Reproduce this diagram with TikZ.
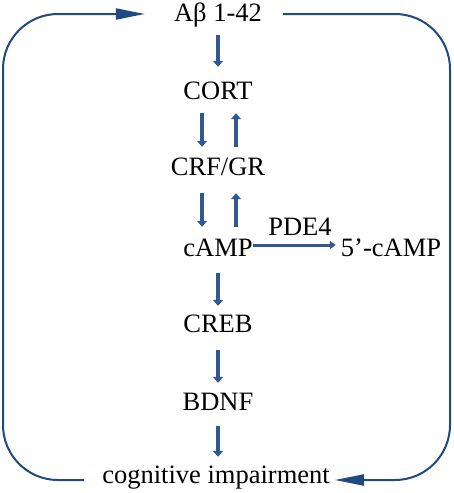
\documentclass[tikz,border=0pt]{standalone}
\usepackage{fontspec}
\setmainfont{Liberation Serif}
\usetikzlibrary{arrows.meta}
\definecolor{arrowblue}{RGB}{48,88,145}
\definecolor{loopblue}{RGB}{31,73,128}
\begin{document}
\begin{tikzpicture}[x=1pt,y=-1pt,
  lbl/.style={anchor=base, inner sep=0pt, text height=18pt, text depth=6pt, font=\fontsize{26.5}{30}\selectfont},
  blk/.style={draw=arrowblue, line width=4.5pt, -{Triangle[length=6pt,width=10pt]}},
  thinblk/.style={draw=arrowblue, line width=3pt, -{Triangle[length=6pt,width=8pt]}},
  loopline/.style={draw=loopblue, line width=2pt, rounded corners=55pt}]
\useasboundingbox (0,0) rectangle (454,493);
\node[lbl] (ab) at (218,21) {Aβ 1-42};
\node[lbl] (cort) at (218,99) {CORT};
\node[lbl] (crf) at (218,175) {CRF/GR};
\node[lbl] (camp) at (218,256) {cAMP};
\node[lbl] (five) at (391,256) {5’-cAMP};
\node[lbl] (pde) at (300,235) {PDE4};
\node[lbl] (creb) at (218,332) {CREB};
\node[lbl] (bdnf) at (218,410) {BDNF};
\node[lbl] (cog) at (216,483) {cognitive impairment};
\coordinate (L) at (3,0);
\coordinate (R) at (450,0);
% vertical chain
\draw[blk, shorten <=8pt, shorten >=14pt] (ab) -- (cort);
\draw[blk, shorten <=8pt, shorten >=10pt] ([xshift=-16pt]cort.south) -- ([xshift=-16pt]crf.north);
\draw[blk, shorten <=10pt, shorten >=8pt] ([xshift=18pt]crf.north) -- ([xshift=18pt]cort.south);
\draw[blk, shorten <=12pt, shorten >=11pt] ([xshift=-16pt]crf.south) -- ([xshift=-16pt]camp.north);
\draw[blk, shorten <=11pt, shorten >=12pt] ([xshift=18pt]camp.north) -- ([xshift=18pt]crf.south);
\draw[blk, shorten <=11pt, shorten >=8pt] (camp) -- (creb);
\draw[blk, shorten <=12pt, shorten >=9pt] (creb) -- (bdnf);
\draw[blk, shorten <=10pt, shorten >=8pt] (bdnf.south) -- (bdnf.south |- cog.north);
% PDE4 arrow
\draw[thinblk, shorten >=5pt] ([yshift=5pt]camp.east) -- ([yshift=5pt]five.west);
% feedback loops
\draw[loopline, -{Triangle[length=29pt,width=11pt]}, shorten >=29pt]
  ([xshift=-18pt,yshift=-3pt]cog.west) -| ([yshift=1pt]L |- ab.west) -- ([yshift=1pt]ab.west);
\draw[loopline, -{Triangle[length=29pt,width=11pt]}, shorten >=5pt]
  ([xshift=21pt,yshift=1pt]ab.east) -| ([yshift=-3pt]R |- cog.east) -- ([yshift=-3pt]cog.east);
\end{tikzpicture}
\end{document}
